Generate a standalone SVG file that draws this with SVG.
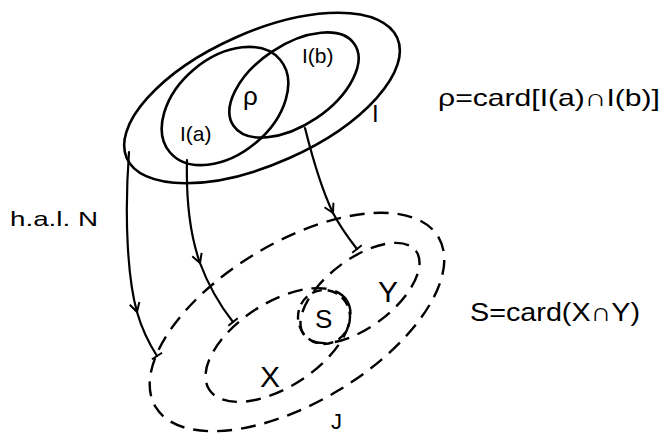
<svg xmlns="http://www.w3.org/2000/svg" width="664" height="434" viewBox="0 0 664 434">
  <style>
    .set { fill: none; stroke: #000; stroke-width: 2.6; }
    .dash { fill: none; stroke: #000; stroke-width: 2.4; stroke-dasharray: 15 9; }
    .dash.small { stroke-dasharray: 10 6; }
    .map { fill: none; stroke: #000; stroke-width: 2.2; stroke-linecap: round; marker-mid: url(#head); marker-end: url(#tick); }
    .lbl { font-family: "Liberation Sans", "DejaVu Sans", sans-serif; fill: #000; }
  </style>
  <defs>
    <marker id="head" viewBox="-10 -6 12 12" markerWidth="12" markerHeight="12" refX="0" refY="0" orient="auto" markerUnits="userSpaceOnUse">
      <path d="M-9,-5 L0,0 L-9,5" fill="none" stroke="#000" stroke-width="2"/>
    </marker>
    <marker id="tick" viewBox="-2 -7 4 14" markerWidth="4" markerHeight="14" refX="0" refY="0" orient="auto" markerUnits="userSpaceOnUse">
      <path d="M0,-6 L0,6" fill="none" stroke="#000" stroke-width="2"/>
    </marker>
  </defs>

  <!-- upper model: I with I(a), I(b) -->
  <g id="I">
    <ellipse class="set" cx="262" cy="98" rx="148" ry="66" transform="rotate(-24 262 98)"/>
    <text class="lbl" x="372" y="122" font-size="24">I</text>
  </g>
  <g id="Ia">
    <ellipse class="set" cx="225" cy="106" rx="72" ry="48" transform="rotate(-40 225 106)"/>
    <text class="lbl" x="180" y="141" font-size="21">I(a)</text>
  </g>
  <g id="Ib">
    <ellipse class="set" cx="294" cy="85" rx="73" ry="40" transform="rotate(-34 294 85)"/>
    <text class="lbl" x="302" y="63" font-size="21">I(b)</text>
  </g>
  <g id="rho">
    <text class="lbl" x="243" y="105" font-size="26">ρ</text>
  </g>

  <!-- lower model: J with X, Y, S -->
  <g id="J">
    <ellipse class="dash" cx="297" cy="322" rx="165" ry="80" transform="rotate(-31 297 322)"/>
    <text class="lbl" x="331" y="429" font-size="22">J</text>
  </g>
  <g id="X">
    <ellipse class="dash" cx="278" cy="345" rx="82" ry="42" transform="rotate(-33 278 345)"/>
    <text class="lbl" x="260" y="387" font-size="30">X</text>
  </g>
  <g id="Y">
    <ellipse class="dash" cx="360" cy="293" rx="70" ry="34" transform="rotate(-37 360 293)"/>
    <text class="lbl" x="378" y="302" font-size="30">Y</text>
  </g>
  <g id="S">
    <ellipse class="dash small" cx="324" cy="317" rx="26" ry="27"/>
    <text class="lbl" x="315" y="328" font-size="26">S</text>
  </g>

  <!-- mapping arrows -->
  <g id="connectors">
    <path class="map" d="M129,152 C124,220 128,280 137,312 C143,333 150,345 157,356"/>
    <path class="map" d="M187,160 C186,200 190,235 200,263 C210,290 222,308 233,322"/>
    <path class="map" d="M305,128 C313,160 322,190 333,213 C342,230 350,240 357,249"/>
  </g>

  <!-- annotations -->
  <g id="hal">
    <text class="lbl" x="10" y="226" font-size="21" textLength="88" lengthAdjust="spacingAndGlyphs">h.a.l. N</text>
  </g>
  <g id="rho-def">
    <text class="lbl" x="438" y="106" font-size="24" textLength="222" lengthAdjust="spacingAndGlyphs">ρ=card[I(a)∩I(b)]</text>
  </g>
  <g id="S-def">
    <text class="lbl" x="470" y="321" font-size="26" textLength="170" lengthAdjust="spacingAndGlyphs">S=card(X∩Y)</text>
  </g>
</svg>
